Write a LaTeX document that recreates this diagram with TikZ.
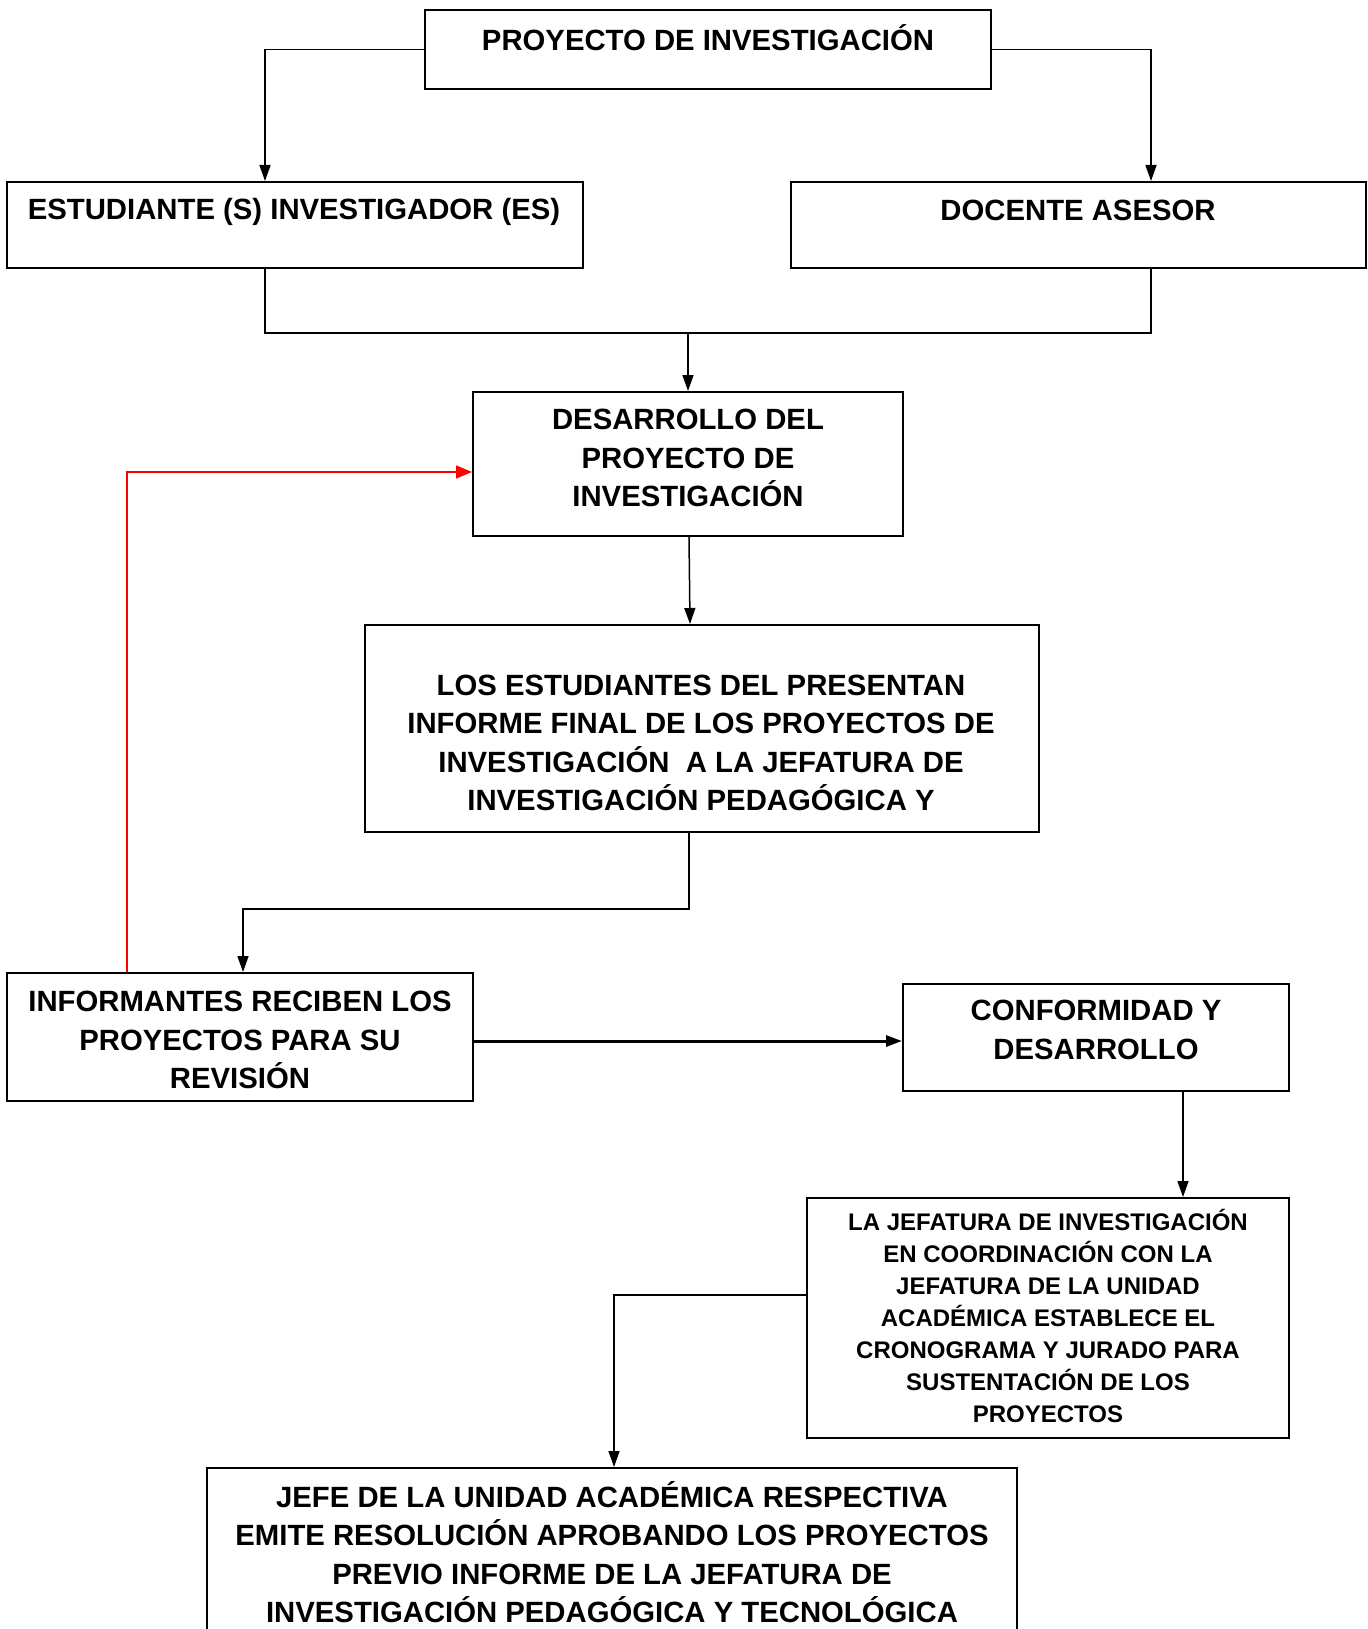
\documentclass[tikz,border=0pt]{standalone}
\usepackage{fontspec}
\setmainfont{Liberation Sans}
\usepackage{tikz}
\usetikzlibrary{arrows.meta}
\usetikzlibrary{positioning}

\begin{document}
\begin{tikzpicture}
  [
    x=1pt,
    y=-1pt,
    box/.style={
      draw,
      line width=2pt,
      rectangle,
      inner sep=0pt
    },
    txt/.style={
      align=center,
      inner sep=0pt,
      font=\bfseries\fontsize{29.3}{38.5}\selectfont
    },
    smalltxt/.style={
      txt,
      font=\bfseries\fontsize{24}{32}\selectfont
    },
    link/.style={
      line width=1.5pt
    },
    arr/.style={
      link,
      -{Triangle[length=16pt,width=11pt]}
    }
  ]
    \useasboundingbox (0,0) rectangle (1367,1629);
    % boxes
    \node [box,minimum width=566pt,minimum height=79pt] (proyecto) at (708,49.5) {};
    \node [txt] (proyecto-t) at (708,38) {PROYECTO DE INVESTIGACIÓN};
    \node [box,minimum width=576pt,minimum height=86pt] (estudiante) at (295,225) {};
    \node [txt] (estudiante-t) at (294,212) {ESTUDIANTE (S) INVESTIGADOR (ES)};
    \node [box,minimum width=575pt,minimum height=86pt] (docente) at (1078.5,225) {};
    \node [txt] (docente-t) at (1078,210) {DOCENTE ASESOR};
    \node [box,minimum width=430pt,minimum height=144pt] (desarrollo) at (688,464) {};
    \node [txt] (desarrollo-t) at (688,458) {DESARROLLO DEL\\PROYECTO DE\\INVESTIGACIÓN};
    \node [box,minimum width=674pt,minimum height=207pt] (informe) at (702,728.5) {};
    \node [txt] (informe-t) at (701,743) {LOS ESTUDIANTES DEL PRESENTAN\\INFORME FINAL DE LOS PROYECTOS DE\\INVESTIGACIÓN\ \ A LA JEFATURA DE\\INVESTIGACIÓN PEDAGÓGICA Y};
    \node [box,minimum width=466pt,minimum height=128pt] (informantes) at (240,1037) {};
    \node [txt] (informantes-t) at (240,1040) {INFORMANTES RECIBEN LOS\\PROYECTOS PARA SU\\REVISIÓN};
    \node [box,minimum width=386pt,minimum height=107pt] (conformidad) at (1096,1037.5) {};
    \node [txt] (conformidad-t) at (1096,1030) {CONFORMIDAD Y\\DESARROLLO};
    \node [box,minimum width=482pt,minimum height=240pt] (jefatura) at (1048,1318) {};
    \node [smalltxt] (jefatura-t) at (1048,1316) {LA JEFATURA DE INVESTIGACIÓN\\EN COORDINACIÓN CON LA\\JEFATURA DE LA UNIDAD\\ACADÉMICA ESTABLECE EL\\CRONOGRAMA Y JURADO PARA\\SUSTENTACIÓN DE LOS\\PROYECTOS};
    \node [box,minimum width=810pt,minimum height=192pt] (jefe) at (612,1564) {};
    \node [txt] (jefe-t) at (612,1552) {JEFE DE LA UNIDAD ACADÉMICA RESPECTIVA\\EMITE RESOLUCIÓN APROBANDO LOS PROYECTOS\\PREVIO INFORME DE LA JEFATURA DE\\INVESTIGACIÓN PEDAGÓGICA Y TECNOLÓGICA};
    % connectors
    \coordinate (junta) at (688,333);
    \draw [arr] (proyecto.west) -| ([xshift=-30pt]estudiante.north);
    \draw [arr] (proyecto.east) -| ([xshift=72.5pt]docente.north);
    \draw [link] ([xshift=-30pt]estudiante.south) |- (junta) -| ([xshift=72.5pt]docente.south);
    \draw [arr] (junta) -- (desarrollo.north);
    \draw [arr] ([xshift=1pt]desarrollo.south) -- ([xshift=-12pt]informe.north);
    \draw [arr] ([xshift=-13pt]informe.south) -- ++(0,76) -| ([xshift=3pt]informantes.north);
    \draw [link,red,-{Triangle[length=16pt,width=13pt]}] ([xshift=-113pt]informantes.north) |- ([yshift=-8pt]desarrollo.west);
    \draw [arr,line width=3pt] ([yshift=-4pt]informantes.east) -- ([yshift=-4pt]informantes.east -| conformidad.west);
    \draw [arr] ([xshift=87pt]conformidad.south) -- ([xshift=135pt]jefatura.north);
    \draw [arr] ([yshift=23pt]jefatura.west) -| ([xshift=2pt]jefe.north);
\end{tikzpicture}
\end{document}
